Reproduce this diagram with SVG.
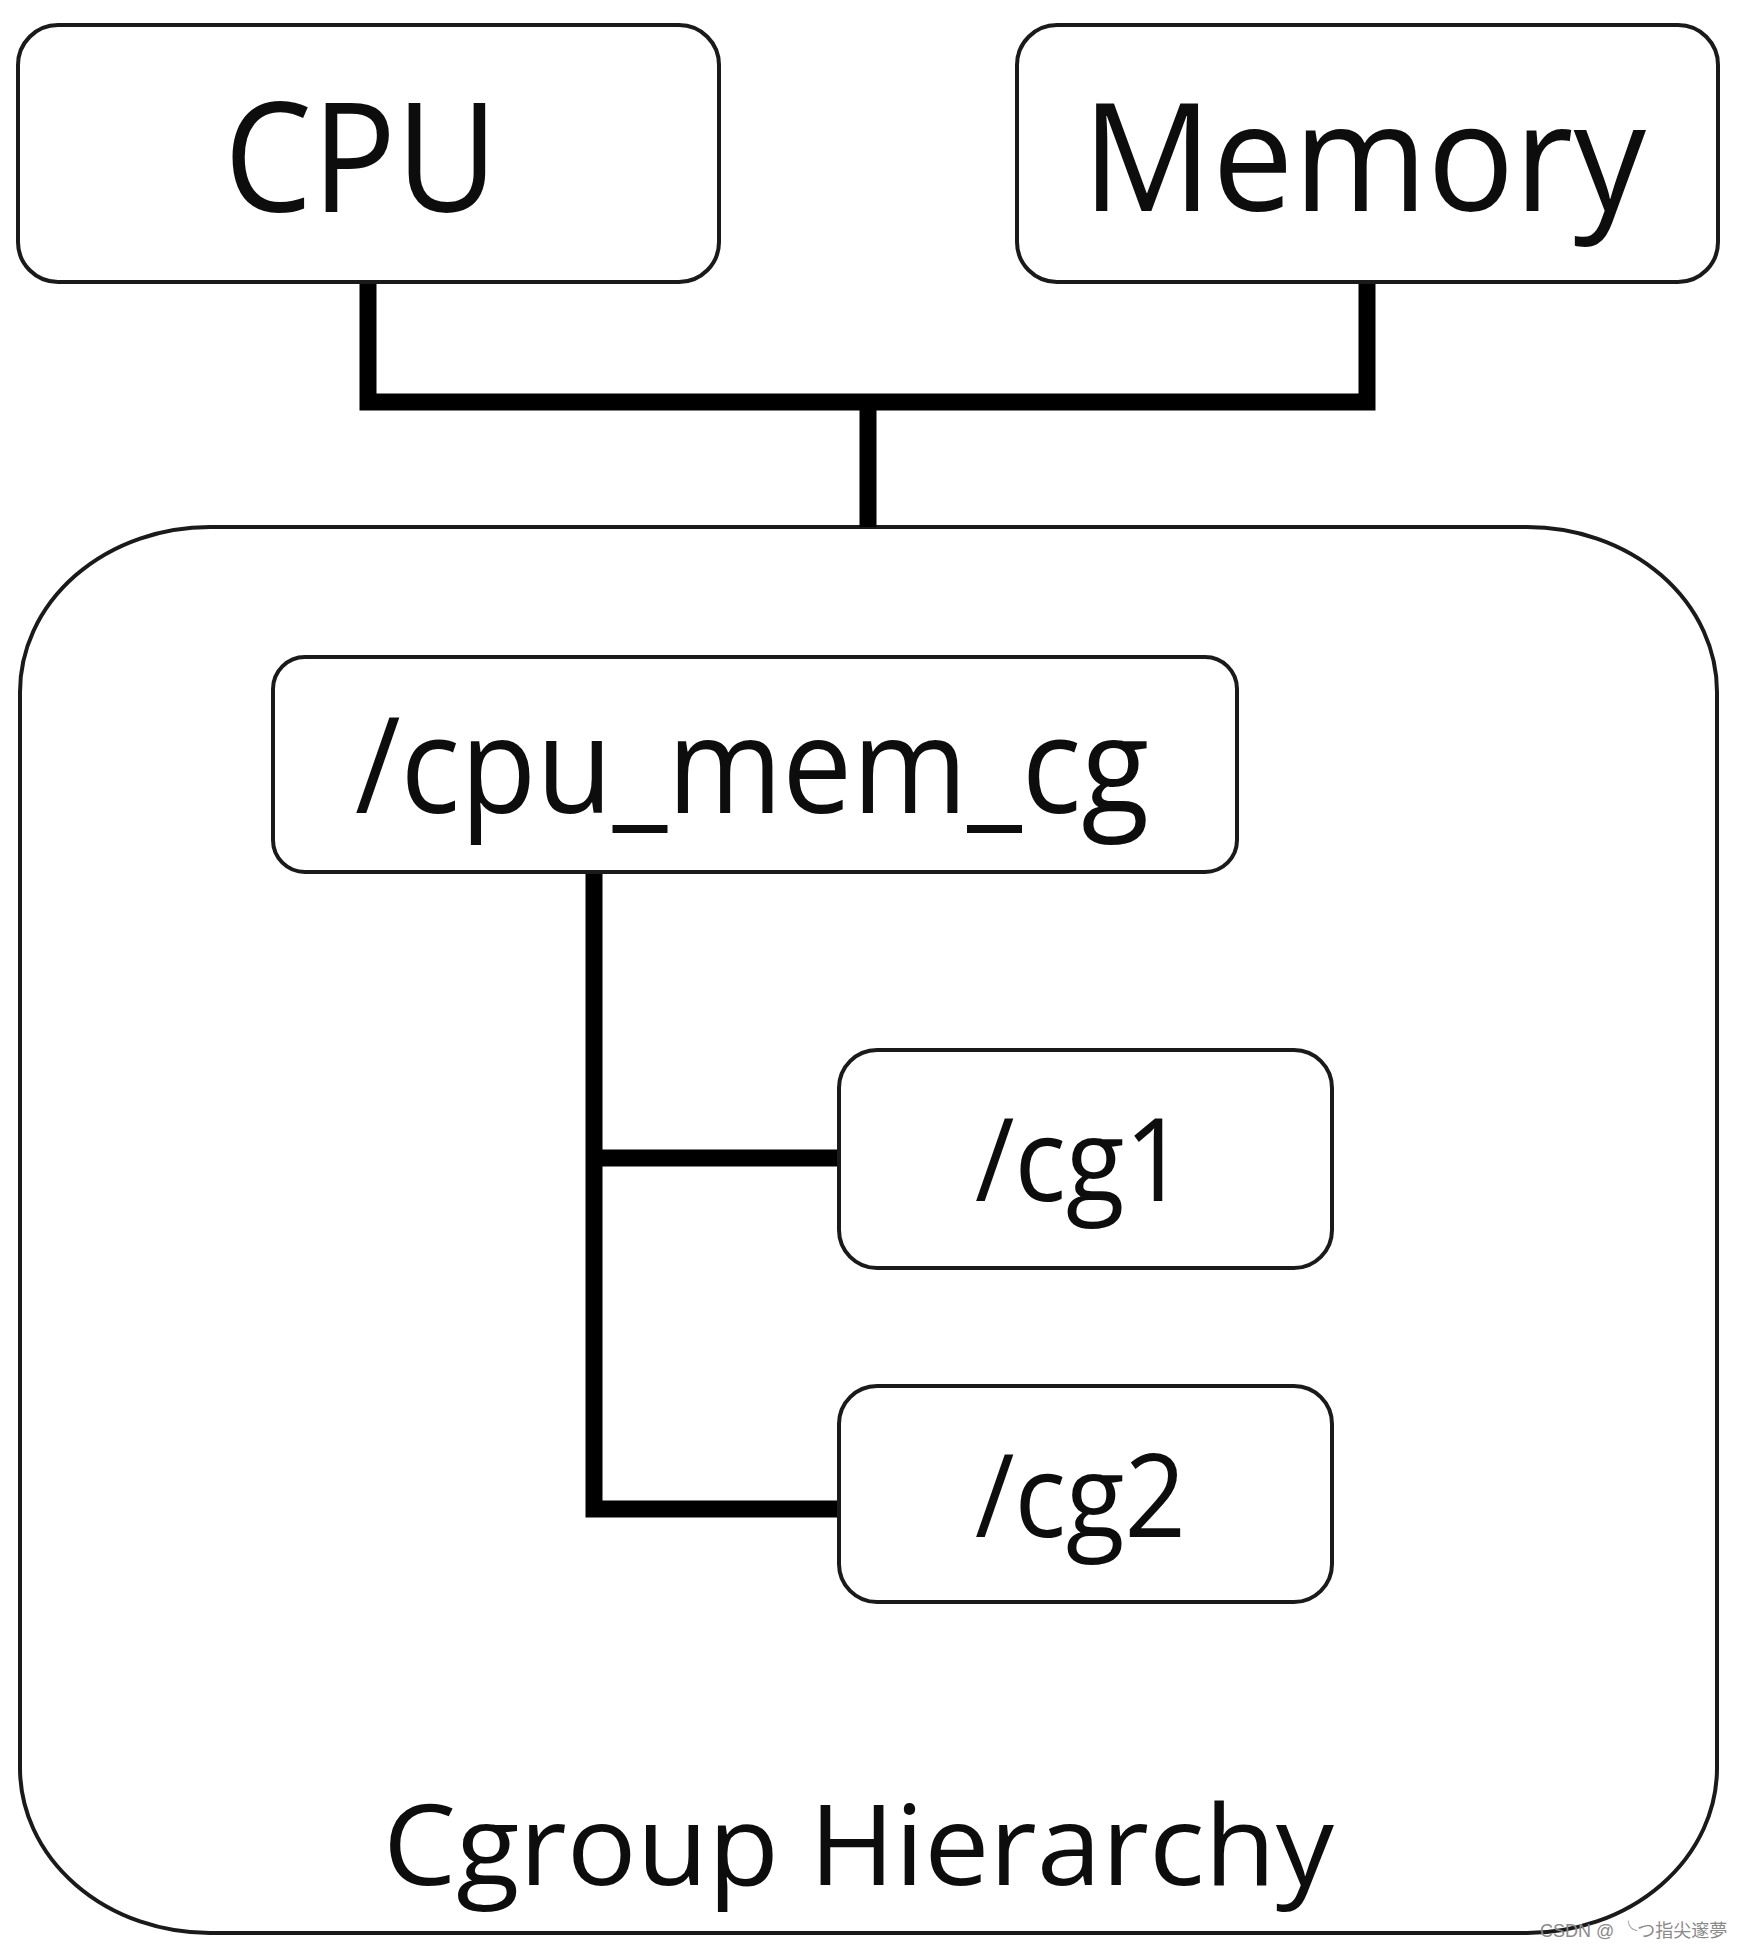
<svg xmlns="http://www.w3.org/2000/svg" width="1748" height="1948" viewBox="0 0 1748 1948">
<style>
.box{fill:#fff;stroke:#1a1a1a;stroke-width:4}
.lbl{font-family:"Open Sans","Noto Sans","DejaVu Sans",sans-serif;fill:#0d0d0d}
.conn{fill:none;stroke:#000;stroke-width:17;stroke-linejoin:miter;stroke-linecap:butt}
.wm{font-family:"Liberation Sans","Noto Sans CJK SC",sans-serif;font-size:18px;fill:#8a8a8a}
</style>
<rect width="1748" height="1948" fill="#fff"/>
<g id="hierarchy">
<rect class="box" x="20" y="527" width="1697" height="1406" rx="190" ry="165"/>
<text class="lbl" x="383" y="1885" font-size="112" textLength="951" lengthAdjust="spacingAndGlyphs">Cgroup Hierarchy</text>
</g>
<g id="connectors">
<polyline class="conn" points="368,282 368,402 1367,402 1367,282"/>
<line class="conn" x1="868" y1="402" x2="868" y2="527"/>
<polyline class="conn" points="594,872 594,1509 839,1509"/>
<line class="conn" x1="594" y1="1158" x2="839" y2="1158"/>
</g>
<g id="cpu">
<rect class="box" x="18" y="25" width="701" height="257" rx="40" ry="40"/>
<text class="lbl" x="224" y="212" font-size="152" textLength="274" lengthAdjust="spacingAndGlyphs">CPU</text>
</g>
<g id="memory">
<rect class="box" x="1017" y="25" width="701" height="257" rx="40" ry="40"/>
<text class="lbl" x="1082" y="211" font-size="150" textLength="564" lengthAdjust="spacingAndGlyphs">Memory</text>
</g>
<g id="cpu_mem_cg">
<rect class="box" x="273" y="657" width="964" height="215" rx="32" ry="32"/>
<text class="lbl" x="355" y="813" font-size="134" textLength="794" lengthAdjust="spacingAndGlyphs">/cpu_mem_cg</text>
</g>
<g id="cg1">
<rect class="box" x="839" y="1050" width="493" height="218" rx="38" ry="38"/>
<text class="lbl" x="975" y="1201" font-size="116" textLength="211" lengthAdjust="spacingAndGlyphs">/cg1</text>
</g>
<g id="cg2">
<rect class="box" x="839" y="1386" width="493" height="216" rx="38" ry="38"/>
<text class="lbl" x="975" y="1537" font-size="116" textLength="211" lengthAdjust="spacingAndGlyphs">/cg2</text>
</g>
<text class="wm" x="1540" y="1937">CSDN @ ╰つ指尖邃夢</text>
</svg>
